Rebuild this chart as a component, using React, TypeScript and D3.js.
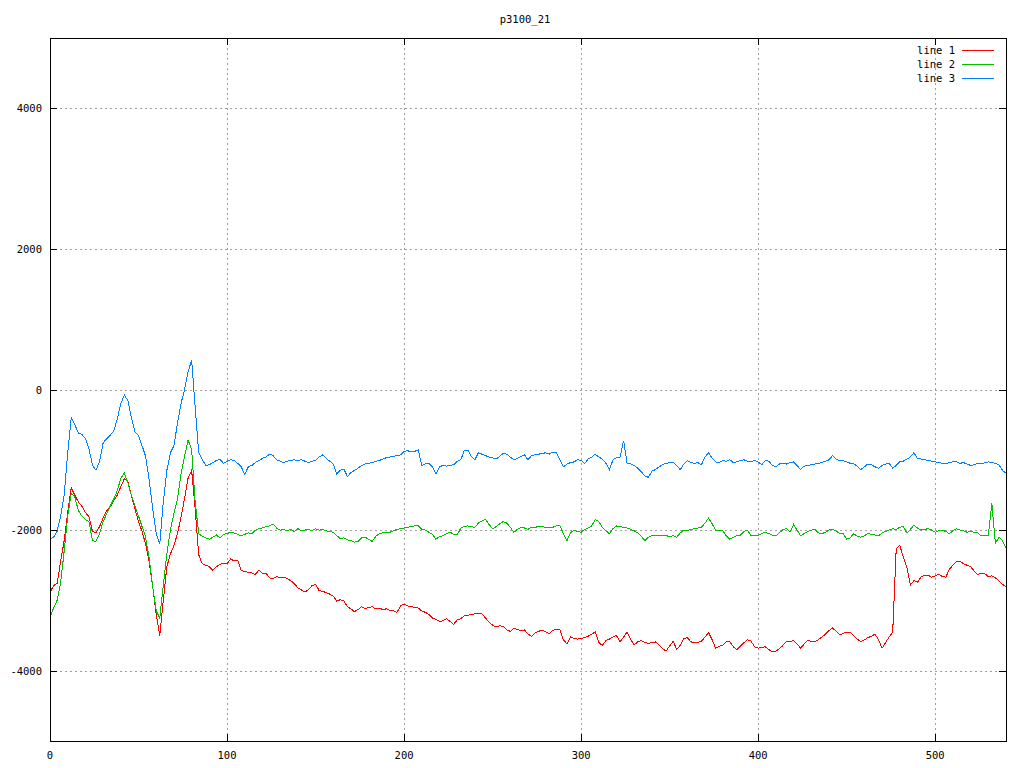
import React from "react";
import * as d3 from "d3";

const TITLE = "p3100_21";
const STEP = 2;
const SERIES_NAMES = ["line 1", "line 2", "line 3"];
const SERIES_COLORS = ["#ff0000", "#00c000", "#0080ff"];
const X_TICKS = [0, 100, 200, 300, 400, 500];
const Y_TICKS = [-4000, -2000, 0, 2000, 4000];
const X_DOMAIN = [0, 540];
const Y_DOMAIN = [-5000, 5000];

const line1 = [
  -2885,-2790,-2760,-2450,-2150,-1750,-1400,-1500,-1600,-1660,
  -1750,-1810,-2020,-2040,-1950,-1830,-1730,-1670,-1580,-1500,
  -1380,-1270,-1310,-1510,-1700,-1880,-2020,-2200,-2450,-2800,
  -3200,-3500,-3000,-2520,-2340,-2220,-2050,-1820,-1550,-1260,
  -1150,-1700,-2350,-2480,-2500,-2520,-2570,-2520,-2490,-2470,
  -2480,-2410,-2440,-2430,-2570,-2590,-2600,-2610,-2630,-2570,
  -2620,-2610,-2680,-2690,-2660,-2680,-2670,-2690,-2720,-2760,
  -2820,-2850,-2880,-2850,-2790,-2770,-2860,-2870,-2890,-2910,
  -2940,-3010,-2990,-3010,-3090,-3120,-3160,-3130,-3090,-3120,
  -3100,-3090,-3120,-3110,-3130,-3120,-3140,-3150,-3170,-3080,
  -3050,-3080,-3090,-3100,-3110,-3150,-3170,-3200,-3250,-3270,
  -3300,-3290,-3260,-3300,-3340,-3280,-3260,-3220,-3210,-3200,
  -3190,-3180,-3190,-3250,-3310,-3350,-3380,-3360,-3370,-3420,
  -3440,-3400,-3410,-3430,-3420,-3480,-3510,-3460,-3440,-3420,
  -3450,-3470,-3430,-3410,-3420,-3560,-3620,-3520,-3540,-3550,
  -3540,-3530,-3510,-3480,-3450,-3600,-3640,-3570,-3550,-3520,
  -3500,-3590,-3520,-3450,-3560,-3630,-3590,-3570,-3600,-3610,
  -3600,-3590,-3630,-3690,-3720,-3650,-3580,-3700,-3640,-3540,
  -3530,-3590,-3600,-3600,-3580,-3520,-3460,-3560,-3680,-3650,
  -3640,-3590,-3590,-3660,-3700,-3650,-3600,-3560,-3580,-3660,
  -3680,-3670,-3660,-3700,-3730,-3720,-3690,-3640,-3580,-3590,
  -3570,-3620,-3680,-3620,-3570,-3580,-3590,-3560,-3520,-3480,
  -3430,-3390,-3440,-3490,-3470,-3450,-3450,-3500,-3550,-3590,
  -3560,-3530,-3510,-3480,-3560,-3680,-3600,-3520,-3450,-2260,
  -2220,-2380,-2530,-2780,-2720,-2740,-2670,-2640,-2640,-2670,
  -2650,-2630,-2660,-2670,-2560,-2500,-2450,-2440,-2480,-2500,
  -2520,-2580,-2630,-2610,-2620,-2660,-2650,-2680,-2720,-2770,
  -2810,
];

const line2 = [
  -3240,-3110,-3000,-2750,-2300,-1800,-1480,-1530,-1720,-1800,
  -1850,-1880,-2150,-2160,-2050,-1880,-1770,-1660,-1560,-1440,
  -1260,-1190,-1330,-1510,-1660,-1800,-1950,-2100,-2400,-2800,
  -3150,-3250,-2780,-2340,-2000,-1760,-1560,-1200,-950,-720,
  -850,-1600,-2050,-2090,-2110,-2130,-2100,-2070,-2110,-2060,
  -2050,-2030,-2040,-2060,-2080,-2060,-2040,-2050,-2000,-1980,
  -1970,-1950,-1940,-1910,-1970,-2000,-1990,-2010,-1990,-2020,
  -1980,-2010,-2000,-1990,-2010,-1980,-2000,-1990,-2010,-2020,
  -2030,-2080,-2120,-2110,-2140,-2150,-2170,-2160,-2110,-2100,
  -2130,-2160,-2090,-2050,-2040,-2030,-2030,-2010,-1990,-1980,
  -1970,-1960,-1950,-1940,-1940,-1990,-2000,-2030,-2060,-2130,
  -2090,-2080,-2050,-2030,-2060,-2070,-1970,-1950,-1940,-1950,
  -1960,-1900,-1870,-1850,-1920,-1980,-1950,-1910,-1880,-1900,
  -1960,-2030,-1990,-1960,-1970,-1990,-1960,-1960,-1950,-1950,
  -1960,-1970,-1960,-1940,-1940,-2050,-2150,-2040,-2000,-2020,
  -2030,-1990,-1970,-1940,-1850,-1880,-1960,-2010,-2050,-1980,
  -1940,-1950,-1960,-1970,-1990,-2010,-2040,-2090,-2150,-2100,
  -2080,-2070,-2080,-2070,-2080,-2090,-2080,-2100,-2040,-2000,
  -2010,-1990,-1980,-1970,-1960,-1900,-1830,-1910,-2000,-2000,
  -2010,-2080,-2130,-2100,-2080,-2070,-2020,-2000,-2080,-2070,
  -2080,-2050,-2030,-2050,-2070,-2080,-2040,-1990,-1980,-2030,
  -1920,-2000,-2080,-2050,-2020,-2000,-1990,-2040,-2050,-2030,
  -2000,-1990,-2010,-2050,-2050,-2130,-2110,-2050,-2090,-2100,
  -2080,-2050,-2060,-2070,-2080,-2040,-2020,-2000,-1980,-1990,
  -1960,-1950,-2040,-1990,-1930,-1970,-2000,-1990,-1980,-2000,
  -2030,-2010,-2000,-2020,-2050,-2010,-1980,-2000,-2010,-2030,
  -2020,-2030,-2040,-2080,-2070,-2080,-1620,-2190,-2100,-2150,
  -2250,
];

const line3 = [
  -2130,-2100,-2020,-1800,-1500,-900,-400,-500,-620,-640,
  -700,-840,-1080,-1150,-1020,-760,-700,-650,-590,-420,
  -200,-80,-160,-400,-600,-660,-800,-950,-1280,-1700,
  -2050,-2200,-1600,-1150,-900,-800,-480,-200,0,250,
  420,-250,-900,-1000,-1080,-1070,-1040,-1010,-990,-1050,
  -1020,-1000,-1010,-1050,-1100,-1210,-1100,-1080,-1040,-1010,
  -980,-960,-920,-940,-1000,-1020,-1040,-1020,-1010,-1000,
  -1010,-1000,-1020,-1040,-1020,-1010,-960,-930,-980,-1020,
  -1060,-1200,-1150,-1130,-1240,-1180,-1150,-1120,-1080,-1060,
  -1050,-1040,-1020,-1010,-990,-970,-960,-950,-940,-930,
  -880,-870,-890,-880,-860,-1080,-1060,-1050,-1100,-1200,
  -1100,-1080,-1090,-1080,-1070,-1020,-1000,-870,-860,-950,
  -1000,-900,-920,-940,-960,-970,-990,-950,-910,-920,
  -960,-1000,-980,-950,-930,-1000,-940,-930,-920,-910,
  -900,-920,-890,-900,-1000,-1100,-1060,-1040,-1030,-1000,
  -1010,-1050,-990,-960,-920,-960,-990,-1050,-1140,-1000,
  -970,-960,-730,-1050,-1060,-1080,-1120,-1170,-1230,-1250,
  -1160,-1140,-1100,-1070,-1050,-1040,-1030,-1080,-1140,-1060,
  -1010,-1040,-1050,-1040,-1070,-960,-900,-980,-1030,-1040,
  -1010,-1020,-1000,-1040,-1030,-1010,-1000,-1020,-1030,-1010,
  -1030,-1070,-1010,-1020,-1080,-1100,-1060,-1050,-1060,-1040,
  -1030,-1080,-1140,-1090,-1080,-1070,-1060,-1050,-1040,-1020,
  -1000,-940,-990,-1010,-1010,-1030,-1050,-1060,-1090,-1140,
  -1100,-1060,-1070,-1100,-1120,-1080,-1060,-1050,-1120,-1080,
  -1030,-1020,-990,-960,-900,-980,-990,-1000,-1010,-1020,
  -1030,-1040,-1050,-1060,-1040,-1030,-1030,-1050,-1040,-1060,
  -1080,-1070,-1050,-1060,-1040,-1030,-1040,-1050,-1070,-1150,
  -1190,
];

const SERIES = [line1, line2, line3];

const W = 1024;
const H = 768;
const M = { left: 50, right: 1006, top: 38, bottom: 741 };
const FONT = "'DejaVu Sans Mono', 'Liberation Mono', monospace";

export default function App() {
  const x = d3.scaleLinear().domain(X_DOMAIN).range([M.left, M.right]);
  const y = d3.scaleLinear().domain(Y_DOMAIN).range([M.bottom, M.top]);
  const lineGen = d3
    .line<number>()
    .x((_, i) => x(i * STEP))
    .y((d) => y(d));
  const tickLen = 7;

  return (
    <svg
      width={W}
      height={H}
      style={{ position: "absolute", left: 0, top: 0, background: "#fff" }}
      fontFamily={FONT}
      fontSize={10.5}
    >
      <rect x={0} y={0} width={W} height={H} fill="#fff" />
      <g stroke="#a0a0a0" strokeWidth={1} strokeDasharray="2,3" shapeRendering="crispEdges">
        {X_TICKS.filter((t) => t !== 0).map((t) => (
          <line key={"gx" + t} x1={Math.round(x(t)) + 0.5} x2={Math.round(x(t)) + 0.5} y1={M.top} y2={M.bottom} />
        ))}
        {Y_TICKS.map((t) => (
          <line key={"gy" + t} x1={M.left} x2={M.right} y1={Math.round(y(t)) + 0.5} y2={Math.round(y(t)) + 0.5} />
        ))}
      </g>
      <g stroke="#000" strokeWidth={1} shapeRendering="crispEdges">
        {X_TICKS.map((t) => {
          const px = Math.round(x(t)) + 0.5;
          return (
            <g key={"tx" + t}>
              <line x1={px} x2={px} y1={M.bottom} y2={M.bottom - tickLen} />
              <line x1={px} x2={px} y1={M.top} y2={M.top + tickLen} />
            </g>
          );
        })}
        {Y_TICKS.map((t) => {
          const py = Math.round(y(t)) + 0.5;
          return (
            <g key={"ty" + t}>
              <line x1={M.left} x2={M.left + tickLen} y1={py} y2={py} />
              <line x1={M.right} x2={M.right - tickLen} y1={py} y2={py} />
            </g>
          );
        })}
      </g>
      <g fill="#000">
        {X_TICKS.map((t) => (
          <text key={"lx" + t} x={x(t)} y={759} textAnchor="middle">
            {t}
          </text>
        ))}
        {Y_TICKS.map((t) => (
          <text key={"ly" + t} x={42} y={y(t) + 4} textAnchor="end">
            {String(t)}
          </text>
        ))}
      </g>
      <g fill="none" strokeWidth={1} shapeRendering="crispEdges">
        {SERIES.map((s, i) => (
          <path key={"s" + i} d={lineGen(s) || ""} stroke={SERIES_COLORS[i]} />
        ))}
      </g>
      <rect
        x={M.left + 0.5}
        y={M.top + 0.5}
        width={M.right - M.left}
        height={M.bottom - M.top}
        fill="none"
        stroke="#000"
        strokeWidth={1}
        shapeRendering="crispEdges"
      />
      <text x={525} y={23} textAnchor="middle" fill="#000">
        {TITLE}
      </text>
      <g>
        {SERIES_NAMES.map((n, i) => (
          <g key={"lg" + i}>
            <text x={955} y={54 + i * 14} textAnchor="end" fill="#000">
              {n}
            </text>
            <line
              x1={962}
              x2={994}
              y1={50.5 + i * 14}
              y2={50.5 + i * 14}
              stroke={SERIES_COLORS[i]}
              strokeWidth={1}
              shapeRendering="crispEdges"
            />
          </g>
        ))}
      </g>
    </svg>
  );
}
